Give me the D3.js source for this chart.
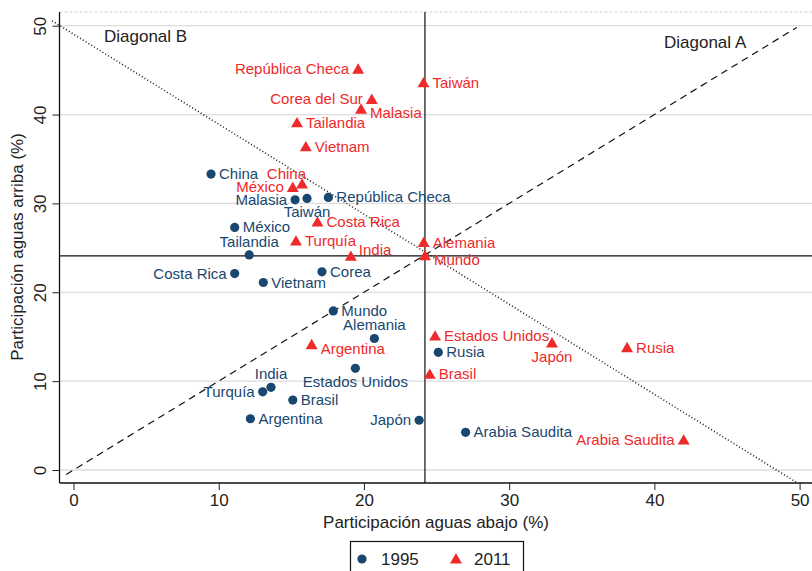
<!DOCTYPE html>
<html><head><meta charset="utf-8">
<script src="https://cdn.jsdelivr.net/npm/d3@7"></script>
<style>body{margin:0;background:#fff}text{font-family:"Liberation Sans",Arial,Helvetica,sans-serif}</style>
</head><body><svg id="c" width="812" height="571"></svg>
<script>
// Data (1995)
const names95 = ["China","Malasia","Taiwán","República Checa","México","Tailandia","Costa Rica","Vietnam","Corea","Mundo","Alemania","Estados Unidos","India","Turquía","Brasil","Argentina","Japón","Rusia","Arabia Saudita"];
const down95  = [9.47,15.26,16.08,17.55,11.1,12.1,11.1,13.07,17.11,17.89,20.72,19.41,13.6,13.03,15.1,12.18,23.8,25.12,27.0];
const up95    = [33.3,30.4,30.56,30.67,27.3,24.2,22.1,21.1,22.3,17.9,14.8,11.44,9.3,8.8,7.87,5.77,5.6,13.24,4.24];
const pos95   = [3,9,6,3,3,12,9,3,3,3,12,6,12,9,3,3,9,3,3];
// Data (2011)
const names11 = ["República Checa","Taiwán","Corea del Sur","Malasia","Tailandia","Vietnam","China","México","Costa Rica","Turquía","India","Alemania","Mundo","Argentina","Estados Unidos","Brasil","Japón","Rusia","Arabia Saudita"];
const down11  = [19.6,24.1,20.54,19.8,15.39,16.0,15.74,15.1,16.8,15.32,19.1,24.12,24.2,16.4,24.9,24.53,32.95,38.12,42.02];
const up11    = [45.1,43.57,41.7,40.6,39.07,36.37,32.17,31.8,27.9,25.76,24.04,25.6,24.1,14.1,15.07,10.76,14.3,13.76,3.37];
const pos11   = [9,3,9,4,3,3,11,9,3,3,1,3,4,4,3,3,6,3,9];
const xTicks = [0,10,20,30,40,50];
const yTicks = [0,10,20,30,40,50];
const mundo11 = {x:24.2, y:24.1};
const diagA = [[-0.5,-0.5],[49.8,49.8]];
const diagB = [[-1.48,50.55],[49.85,-1.46]];

const blue = "#1a476f", red = "#ee2a2a";
const svg = d3.select("#c");
const x = d3.scaleLinear().domain([0,50]).range([73.5,799.6]);
const y = d3.scaleLinear().domain([0,50]).range([470,25.7]);
const L = 59.5, R = 812, T = 12, B = 483;

// gridlines
svg.append("g").selectAll("line").data(yTicks).join("line")
  .attr("x1",L).attr("x2",R).attr("y1",d=>y(d)).attr("y2",d=>y(d))
  .attr("stroke","#dcdcdc").attr("stroke-width",1.3);
svg.append("line").attr("x1",L).attr("x2",R).attr("y1",T).attr("y2",T)
  .attr("stroke","#d0d0d0").attr("stroke-dasharray","3,2").attr("stroke-width",1);

// crosshair
svg.append("line").attr("x1",x(mundo11.x)).attr("x2",x(mundo11.x)).attr("y1",T).attr("y2",B)
  .attr("stroke","#111").attr("stroke-width",1.2);
svg.append("line").attr("x1",L).attr("x2",R).attr("y1",y(mundo11.y)).attr("y2",y(mundo11.y))
  .attr("stroke","#111").attr("stroke-width",1.2);

const ln = d3.line().x(d=>x(d[0])).y(d=>y(d[1]));
// Diagonal A
svg.append("path").attr("d",ln(diagA)).attr("fill","none")
  .attr("stroke","#111").attr("stroke-width",1.2).attr("stroke-dasharray","7,5");
// Diagonal B
svg.append("path").attr("d",ln(diagB)).attr("fill","none")
  .attr("stroke","#222").attr("stroke-width",1.6).attr("stroke-dasharray","1,2.3");

svg.append("text").attr("x",104).attr("y",42).attr("font-size",17).attr("fill","#222").text("Diagonal B");
svg.append("text").attr("x",664).attr("y",48).attr("font-size",17).attr("fill","#222").text("Diagonal A");

// axes
const xa = svg.append("g").attr("transform",`translate(0,${B})`)
  .call(d3.axisBottom(x).tickValues(xTicks).tickSize(7).tickPadding(4));
xa.select(".domain").remove();
xa.selectAll("text").attr("font-size",17).attr("fill","#222").style("font-family","Liberation Sans, Arial");
xa.selectAll("line").attr("stroke","#222");
const ya = svg.append("g").attr("transform",`translate(${L},0)`)
  .call(d3.axisLeft(y).tickValues(yTicks).tickSize(7).tickPadding(4));
ya.select(".domain").remove();
ya.selectAll("line").attr("stroke","#222");
ya.selectAll("text").attr("font-size",17).attr("fill","#222").style("font-family","Liberation Sans, Arial")
  .attr("text-anchor","middle").attr("dy",null).attr("x",null)
  .attr("transform",d=>`translate(-20,0) rotate(-90) translate(0,6)`);
svg.append("line").attr("x1",L).attr("x2",L).attr("y1",T).attr("y2",B).attr("stroke","#111").attr("stroke-width",1.3);
svg.append("line").attr("x1",L).attr("x2",R).attr("y1",B).attr("y2",B).attr("stroke","#111").attr("stroke-width",1.3);

svg.append("text").attr("x",436).attr("y",528).attr("text-anchor","middle").attr("font-size",17).attr("fill","#222")
  .text("Participación aguas abajo (%)");
svg.append("text").attr("transform","translate(23,247) rotate(-90)").attr("text-anchor","middle").attr("font-size",17).attr("fill","#222")
  .text("Participación aguas arriba (%)");

// label placement by clock position
function place(sel, pos, dx0){
  sel.each(function(d){
    const p = pos[d.i]; const t = d3.select(this);
    let ax="start", dx=8, dy=5;
    if(p===3){ax="start";dx=dx0;dy=5;}
    else if(p===9){ax="end";dx=-dx0;dy=5;}
    else if(p===12){ax="middle";dx=0;dy=-8;}
    else if(p===6){ax="middle";dx=0;dy=19;}
    else if(p===4){ax="start";dx=dx0;dy=9;}
    else if(p===1){ax="start";dx=dx0-1;dy=-1;}
    else if(p===11){ax="end";dx=4;dy=-5;}
    t.attr("text-anchor",ax).attr("x",d.px+dx).attr("y",d.py+dy);
  });
}

const d95 = names95.map((n,i)=>({i,n,px:x(down95[i]),py:y(up95[i])}));
const d11 = names11.map((n,i)=>({i,n,px:x(down11[i]),py:y(up11[i])}));

svg.append("g").selectAll("circle").data(d95).join("circle")
  .attr("cx",d=>d.px).attr("cy",d=>d.py).attr("r",4.6).attr("fill",blue);
svg.append("g").selectAll("text").data(d95).join("text")
  .attr("font-size",15).attr("fill",blue).text(d=>d.n).call(place,pos95,8);

const tri = d3.symbol().type(d3.symbolTriangle).size(62);
svg.append("g").selectAll("path").data(d11).join("path")
  .attr("d",tri).attr("transform",d=>`translate(${d.px},${d.py+1})`).attr("fill",red);
svg.append("g").selectAll("text").data(d11).join("text")
  .attr("font-size",15).attr("fill",red).text(d=>d.n).call(place,pos11,9);

// legend
const lg = svg.append("g");
lg.append("rect").attr("x",350.5).attr("y",541.5).attr("width",173).attr("height",40)
  .attr("fill","#fff").attr("stroke","#111").attr("stroke-width",1.2);
lg.append("circle").attr("cx",362).attr("cy",559).attr("r",4.6).attr("fill",blue);
lg.append("text").attr("x",381).attr("y",565).attr("font-size",17).attr("fill","#222").text("1995");
lg.append("path").attr("d",tri).attr("transform","translate(456,560)").attr("fill",red);
lg.append("text").attr("x",474).attr("y",565).attr("font-size",17).attr("fill","#222").text("2011");
</script></body></html>
